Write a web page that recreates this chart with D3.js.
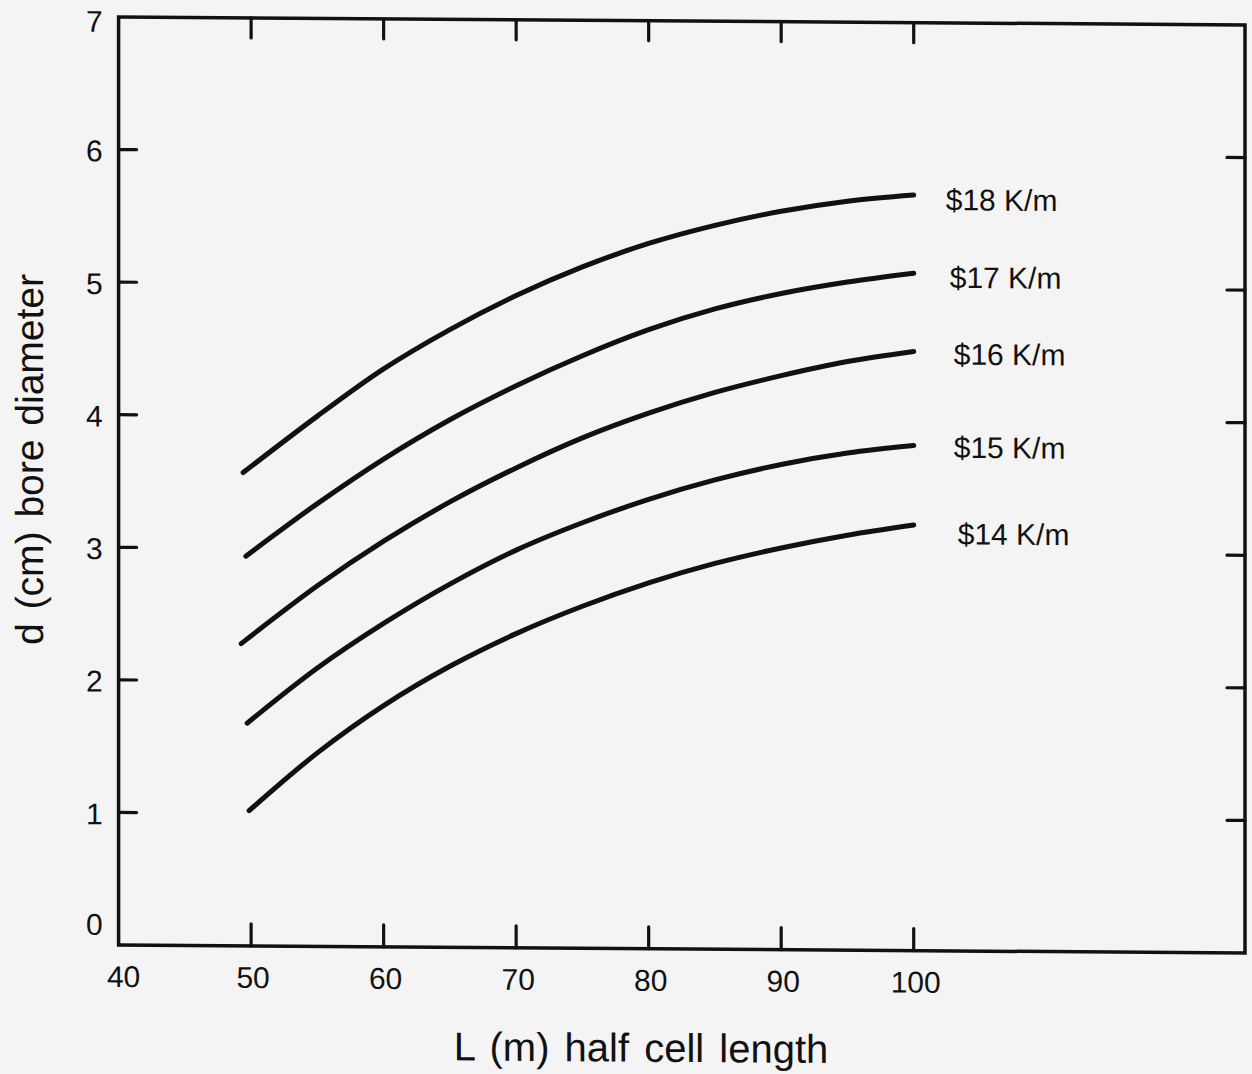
<!DOCTYPE html>
<html>
<head>
<meta charset="utf-8">
<script src="https://cdn.jsdelivr.net/npm/d3@7"></script>
<style>
  html, body { margin: 0; padding: 0; background: #f4f4f4; }
  svg { display: block; }
  text { font-family: "Liberation Sans", Arial, Helvetica, sans-serif; fill: #111; }
</style>
</head>
<body>
<svg id="chart" width="1252" height="1074"></svg>
<script>
// Cost-per-metre curves: bore diameter d (cm) versus half cell length L (m)
const costLabels = ["$14 K/m", "$15 K/m", "$16 K/m", "$17 K/m", "$18 K/m"];
const halfCellLength = [55, 60, 65, 70, 75, 80, 85, 90, 95, 100];
const startLength = [49.85, 49.7, 49.25, 49.6, 49.4];
const startDiameter = [1.02, 1.68, 2.28, 2.94, 3.57];
const diameter14 = [1.46, 1.82, 2.12, 2.37, 2.58, 2.76, 2.91, 3.03, 3.13, 3.21];
const diameter15 = [2.10, 2.44, 2.74, 3.00, 3.21, 3.39, 3.54, 3.66, 3.75, 3.81];
const diameter16 = [2.72, 3.06, 3.36, 3.62, 3.85, 4.04, 4.20, 4.33, 4.44, 4.52];
const diameter17 = [3.34, 3.68, 3.98, 4.24, 4.47, 4.67, 4.83, 4.95, 5.04, 5.11];
const diameter18 = [4.00, 4.36, 4.66, 4.92, 5.14, 5.32, 5.46, 5.57, 5.65, 5.70];
const xTicks = [40, 50, 60, 70, 80, 90, 100];
const yTicks = [0, 1, 2, 3, 4, 5, 6, 7];

const diameters = [diameter14, diameter15, diameter16, diameter17, diameter18];

const svg = d3.select("#chart");
const W = 1252, H = 1074;
svg.append("rect").attr("width", W).attr("height", H).attr("fill", "#f4f4f4");

const plotLeft = 118.6, plotRight = 1245, plotTop = 17, plotBottom = 945;
const x = d3.scaleLinear().domain([40, 125]).range([plotLeft, plotRight]);
const y = d3.scaleLinear().domain([0, 7]).range([plotBottom, plotTop]);

// the printed sheet runs slightly downhill to the right
const k = 0.0071;
const g = svg.append("g")
  .attr("transform", `matrix(1, ${k}, 0, 1, 0, ${-k * plotLeft})`);

const ink = "#111";

// frame
g.append("rect")
  .attr("x", x(40)).attr("y", y(7))
  .attr("width", x(125) - x(40)).attr("height", y(0) - y(7))
  .attr("fill", "none").attr("stroke", ink).attr("stroke-width", 3.5);

// inward ticks on all four sides
const tickLen = 20;
const innerX = xTicks.filter(v => v > 40);
const innerY = yTicks.filter(v => v > 0 && v < 7);
const ticks = g.append("g").attr("stroke", ink).attr("stroke-width", 3.2).attr("stroke-linecap", "round");
innerX.forEach(v => {
  ticks.append("line").attr("x1", x(v)).attr("x2", x(v)).attr("y1", y(0)).attr("y2", y(0) - tickLen - 2);
  ticks.append("line").attr("x1", x(v)).attr("x2", x(v)).attr("y1", y(7)).attr("y2", y(7) + tickLen);
});
innerY.forEach(v => {
  ticks.append("line").attr("x1", x(40)).attr("x2", x(40) + tickLen - 2).attr("y1", y(v)).attr("y2", y(v));
  ticks.append("line").attr("x1", x(125)).attr("x2", x(125) - tickLen + 2).attr("y1", y(v)).attr("y2", y(v));
});

// tick labels
g.append("g").selectAll("text").data(xTicks).join("text")
  .attr("x", d => x(d) + (d === 40 ? 5 : 2))
  .attr("y", y(0) + 42)
  .attr("text-anchor", "middle")
  .attr("font-size", 30)
  .text(d => d);

g.append("g").selectAll("text").data(yTicks).join("text")
  .attr("x", plotLeft - 16)
  .attr("y", d => d === 0 ? y(0) - 10 : d === 7 ? y(7) + 15 : y(d) + 12)
  .attr("text-anchor", "end")
  .attr("font-size", 30)
  .text(d => d);

// axis titles
g.append("text")
  .attr("x", 641).attr("y", 1058)
  .attr("text-anchor", "middle")
  .attr("font-size", 40)
  .attr("word-spacing", 4)
  .text("L (m) half cell length");

g.append("text")
  .attr("transform", "translate(43, 460) rotate(-90)")
  .attr("text-anchor", "middle")
  .attr("font-size", 39)
  .attr("word-spacing", 3)
  .text("d (cm) bore diameter");

// curves
const line = d3.line()
  .x(p => x(p[0]))
  .y(p => y(p[1]))
  .curve(d3.curveCatmullRom.alpha(0.5));

const labelNudge = [[44, 19], [40, 12], [40, 13], [36, 14.5], [32, 15]];

diameters.forEach((vals, i) => {
  const pts = [[startLength[i], startDiameter[i]]].concat(halfCellLength.map((L, j) => [L, vals[j]]));
  g.append("path")
    .attr("d", line(pts))
    .attr("fill", "none")
    .attr("stroke", ink)
    .attr("stroke-width", 5)
    .attr("stroke-linecap", "round")
    .attr("stroke-linejoin", "round");
  const last = pts[pts.length - 1];
  g.append("text")
    .attr("x", x(last[0]) + labelNudge[i][0])
    .attr("y", y(last[1]) + labelNudge[i][1])
    .attr("font-size", 30)
    .text(costLabels[i]);
});
</script>
</body>
</html>
